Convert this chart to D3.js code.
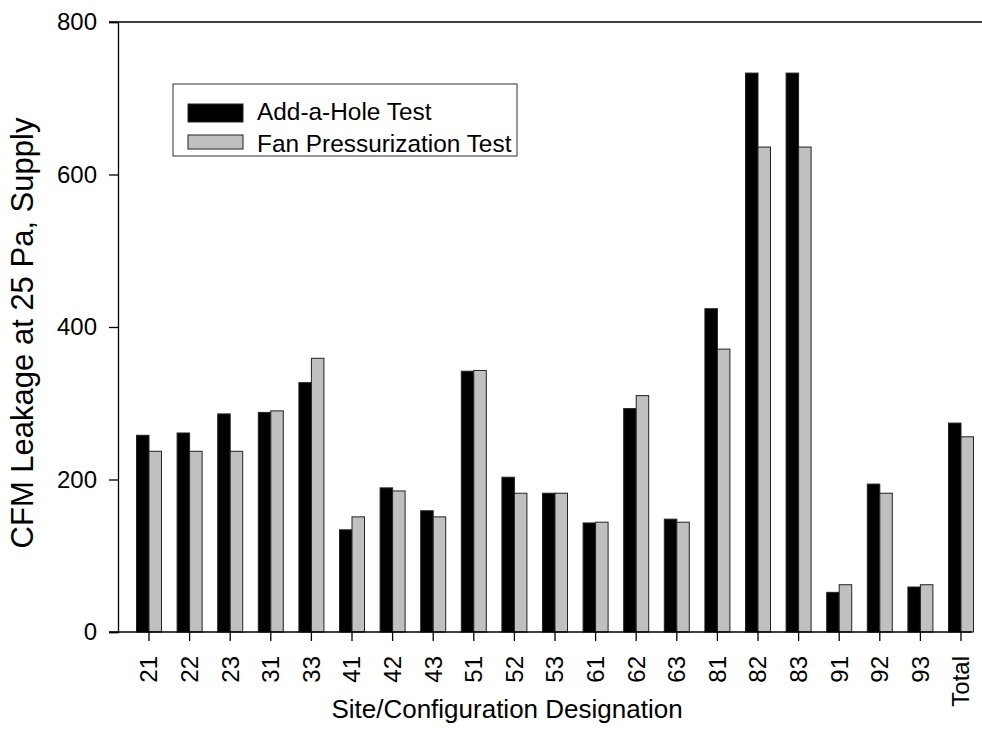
<!DOCTYPE html>
<html lang="en">
  <head>
    <meta charset="UTF-8" />
    <title>duct leakage</title>
    <script src="https://cdn.jsdelivr.net/npm/d3@7/dist/d3.min.js"></script>
    <style>
      body { margin: 0; background: #fff; }
      text { font-family: "Liberation Sans", Arial, sans-serif; fill: #000; }
    </style>
  </head>
  <body>
    <div id="wrapper"></div>
    <script>
      const sites = ["21", "22", "23", "31", "33", "41", "42", "43", "51", "52", "53",
        "61", "62", "63", "81", "82", "83", "91", "92", "93", "Total"];
      const addAHole = [258, 261, 286, 288, 327, 134, 189, 159, 342, 203, 182,
        143, 293, 148, 424, 733, 733, 52, 194, 59, 274];
      const fanPress = [237, 237, 237, 290, 359, 151, 185, 151, 343, 182, 182,
        144, 310, 144, 371, 636, 636, 62, 182, 62, 256];
      const yTicks = [0, 200, 400, 600, 800];
      const seriesNames = ["Add-a-Hole Test", "Fan Pressurization Test"];

      const dataset = sites.map((s, i) => ({ site: s, values: [addAHole[i], fanPress[i]] }));

      const width = 982;
      const height = 738;

      const svg = d3.select("#wrapper")
        .append("svg")
        .attr("width", width)
        .attr("height", height);

      const yScale = d3.scaleLinear().domain([0, 800]).range([632, 22]);
      const xScale = d3.scaleBand().domain(sites).range([128.7, 981.3]);
      const bw = xScale.bandwidth();
      const subScale = d3.scaleBand().domain([0, 1]).range([bw / 2 - 12.5, bw / 2 + 12.5]);
      const fills = ["#000000", "#c0c0c0"];

      // bars
      const groups = svg.append("g")
        .selectAll("g")
        .data(dataset)
        .join("g")
        .attr("transform", d => `translate(${xScale(d.site)},0)`);

      groups.selectAll("rect")
        .data(d => d.values.map((v, k) => ({ k, v })))
        .join("rect")
        .attr("x", d => subScale(d.k))
        .attr("y", d => yScale(d.v))
        .attr("width", subScale.bandwidth())
        .attr("height", d => yScale(0) - yScale(d.v))
        .attr("fill", d => fills[d.k])
        .attr("stroke", "#222")
        .attr("stroke-width", 1);

      // y axis
      const yAxis = svg.append("g")
        .attr("transform", "translate(118,0)")
        .call(d3.axisLeft(yScale).tickValues(yTicks).tickSize(9).tickPadding(12));
      yAxis.select(".domain").attr("stroke", "#000").attr("stroke-width", 1.3);
      yAxis.selectAll(".tick line").attr("stroke", "#000").attr("stroke-width", 1.3);
      yAxis.selectAll("text").style("font-size", "24px").style("font-family", "Liberation Sans, Arial");

      // top line and x baseline
      svg.append("line")
        .attr("x1", 109).attr("x2", 982)
        .attr("y1", yScale(800)).attr("y2", yScale(800))
        .attr("stroke", "#000").attr("stroke-width", 1.5);
      svg.append("line")
        .attr("x1", 109).attr("x2", 972)
        .attr("y1", yScale(0)).attr("y2", yScale(0))
        .attr("stroke", "#000").attr("stroke-width", 1.5);

      // x axis
      const xAxis = svg.append("g")
        .attr("transform", `translate(0,${yScale(0)})`)
        .call(d3.axisBottom(xScale).tickSize(9).tickPadding(0));
      xAxis.select(".domain").remove();
      xAxis.selectAll(".tick line").attr("stroke", "#000").attr("stroke-width", 1.3);
      xAxis.selectAll("text")
        .style("font-size", "24px")
        .style("font-family", "Liberation Sans, Arial")
        .attr("transform", "rotate(-90)")
        .attr("text-anchor", "end")
        .attr("dy", "0.35em")
        .attr("x", -24)
        .attr("y", 0);

      // axis titles
      svg.append("text")
        .attr("x", 507)
        .attr("y", 718)
        .attr("text-anchor", "middle")
        .style("font-size", "26px")
        .text("Site/Configuration Designation");
      svg.append("text")
        .attr("transform", "translate(33,333) rotate(-90)")
        .attr("text-anchor", "middle")
        .style("font-size", "31px")
        .text("CFM Leakage at 25 Pa, Supply");

      // legend
      const legend = svg.append("g");
      legend.append("rect")
        .attr("x", 173).attr("y", 84)
        .attr("width", 344).attr("height", 72)
        .attr("fill", "none").attr("stroke", "#333").attr("stroke-width", 1);
      const swatchY = [104, 135];
      const swatchH = [18, 14];
      const textY = [120, 152];
      seriesNames.forEach((name, k) => {
        legend.append("rect")
          .attr("x", 188).attr("y", swatchY[k])
          .attr("width", 55).attr("height", swatchH[k])
          .attr("fill", fills[k]).attr("stroke", "#222");
        legend.append("text")
          .attr("x", 257).attr("y", textY[k])
          .style("font-size", "24.4px")
          .text(name);
      });
    </script>
  </body>
</html>
